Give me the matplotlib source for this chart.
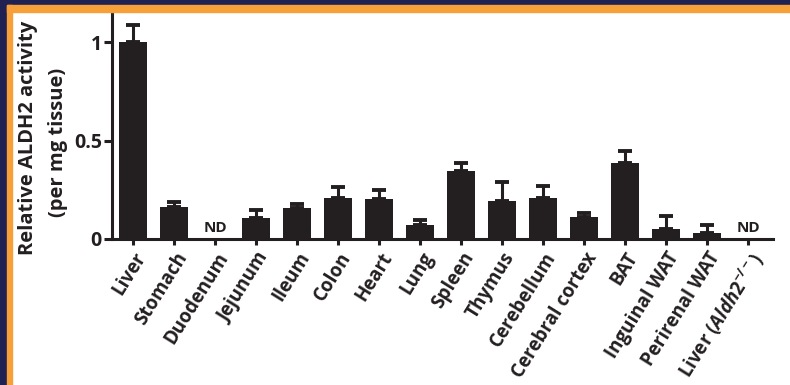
import numpy as np
import matplotlib
matplotlib.use("Agg")
import matplotlib.pyplot as plt
from matplotlib.patches import Rectangle

plt.rcParams['font.family'] = ['Open Sans', 'DejaVu Sans']
plt.rcParams['mathtext.fontset'] = 'custom'
plt.rcParams['mathtext.rm'] = 'Open Sans:bold'
plt.rcParams['mathtext.it'] = 'Open Sans:italic:bold'

# tissues and relative ALDH2 activity (ND = not detected -> nan)
tissues = ["Liver", "Stomach", "Duodenum", "Jejunum", "Ileum", "Colon", "Heart",
           "Lung", "Spleen", "Thymus", "Cerebellum", "Cerebral cortex", "BAT",
           "Inguinal WAT", "Perirenal WAT", r"Liver ($\mathit{Aldh2}^{-/-}$)"]
activity = [1.0, 0.16, np.nan, 0.108, 0.156, 0.206, 0.202, 0.072, 0.343, 0.194,
            0.206, 0.113, 0.385, 0.052, 0.03, np.nan]
sem = [0.085, 0.03, np.nan, 0.038, 0.02, 0.056, 0.048, 0.026, 0.042, 0.093,
       0.064, 0.017, 0.063, 0.066, 0.039, np.nan]

navy = "#1f2152"
orange = "#f7a03a"
ink = "#231f20"

W, H = 790, 385
fig = plt.figure(figsize=(W / 100, H / 100), dpi=100)
fig.patch.set_facecolor("white")

# frame (navy + orange stripe, top and left only)
fig.patches.append(Rectangle((0, 0), 7 / W, 1, transform=fig.transFigure, color=navy, zorder=0))
fig.patches.append(Rectangle((0, 1 - 5 / H), 1, 5 / H, transform=fig.transFigure, color=navy, zorder=0))
fig.patches.append(Rectangle((7 / W, 0), 5 / W, 1 - 5 / H, transform=fig.transFigure, color=orange, zorder=0))
fig.patches.append(Rectangle((7 / W, 1 - 12 / H), 1, 7 / H, transform=fig.transFigure, color=orange, zorder=0))

x0, x1, ytop, ybot = 111.7, 773, 12.5, 239
ax = fig.add_axes([x0 / W, 1 - ybot / H, (x1 - x0) / W, (ybot - ytop) / H])
ax.set_facecolor("none")

x = np.arange(len(tissues))
vals = np.array(activity)
errs = np.array(sem)
ax.bar(x, np.nan_to_num(vals), width=0.68, color=ink, zorder=2)
ax.errorbar(x, vals, yerr=[np.zeros_like(errs), errs], fmt="none", ecolor=ink,
            elinewidth=2.2, capsize=5, capthick=2.8, zorder=1)

for i, v in enumerate(activity):
    if np.isnan(v):
        ax.text(i, 0.02, "ND", ha="center", va="bottom", fontsize=11,
                fontweight="bold", color=ink)

ax.set_xlim(-0.53, 15.6)
ax.set_ylim(0, 1.15)
ax.set_yticks([0, 0.5, 1])
ax.set_yticklabels(["0", "0.5", "1"])
ax.set_xticks(x)
ax.set_xticklabels(tissues, rotation=58, ha="right", rotation_mode="anchor",
                   fontsize=13.5, fontweight="bold", color=ink)

for s in ["top", "right"]:
    ax.spines[s].set_visible(False)
for s in ["left", "bottom"]:
    ax.spines[s].set_linewidth(2.2)
    ax.spines[s].set_color(ink)
ax.tick_params(axis="y", length=6, width=2.2, color=ink, labelsize=14,
               labelcolor=ink, pad=1)
ax.tick_params(axis="x", length=4, width=2.2, color=ink, pad=3)
for t in ax.get_yticklabels():
    t.set_fontweight("bold")

fig.text(28 / W, 1 - 138 / H, "Relative ALDH2 activity", rotation=90, ha="center",
         va="center", fontsize=14.5, fontweight="bold", color=ink)
fig.text(58 / W, 1 - 142 / H, "(per mg tissue)", rotation=90, ha="center",
         va="center", fontsize=14.5, fontweight="bold", color=ink)

fig.savefig("out.png", dpi=100)
